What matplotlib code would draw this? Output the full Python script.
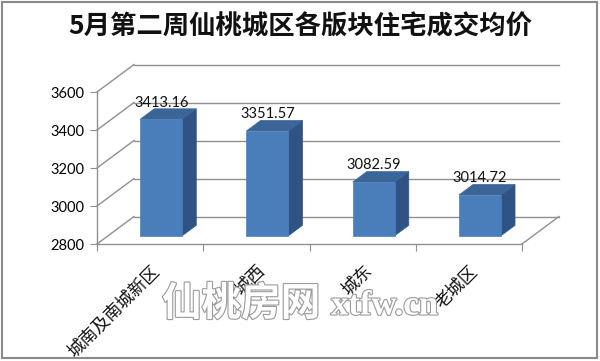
import matplotlib
matplotlib.use("Agg")
import matplotlib.pyplot as plt
from matplotlib.patches import Polygon, Rectangle
import matplotlib.patheffects as pe

title = "5月第二周仙桃城区各版块住宅成交均价"
categories = ["城南及南城新区", "城西", "城东", "老城区"]
values = [3413.16, 3351.57, 3082.59, 3014.72]
value_labels = ["3413.16", "3351.57", "3082.59", "3014.72"]
yticks = [2800, 3000, 3200, 3400, 3600]

W, H = 600, 361
fig = plt.figure(figsize=(W / 100, H / 100), dpi=100)
fig.patch.set_facecolor("white")

# front plane of the 3D box in pixels
left_px, right_px, bottom_px, top_px = 97, 522, 244, 92
ax = fig.add_axes([left_px / W, 1 - bottom_px / H,
                   (right_px - left_px) / W, (bottom_px - top_px) / H])
ymin, ymax = yticks[0], yticks[-1]
n = len(categories)
ax.set_xlim(0, n)
ax.set_ylim(ymin, ymax)
ax.patch.set_visible(False)

# depth offset (full depth) in data units
DX = 37 / (right_px - left_px) * n
DY = 27.5 / (bottom_px - top_px) * (ymax - ymin)

def proj(x, v, f):
    return (x + f * DX, v + f * DY)

grid_c = "#8f8f8f"
# back wall gridlines and left wall diagonals
for v in yticks:
    x0, y0 = proj(0, v, 1)
    x1, y1 = proj(n, v, 1)
    ax.plot([x0, x1], [y0, y1], color=grid_c, lw=1.0, clip_on=False, zorder=1)
    ax.plot([0, x0], [v, y0], color=grid_c, lw=1.0, clip_on=False, zorder=1)
# floor right edge
xr, yr = proj(n, ymin, 1)
ax.plot([n, xr], [ymin, yr], color=grid_c, lw=1.0, clip_on=False, zorder=1)

# bars
front_c = "#4A7EBB"
top_c = "#3B6597"
side_c = "#2F5384"
bw = 0.395
f0, f1 = 0.30, 0.68
for i, v in enumerate(values):
    c = i + 0.5
    xa, xb = c - bw / 2, c + bw / 2
    fa = [proj(xa, ymin, f0), proj(xb, ymin, f0), proj(xb, v, f0), proj(xa, v, f0)]
    top = [proj(xa, v, f0), proj(xb, v, f0), proj(xb, v, f1), proj(xa, v, f1)]
    side = [proj(xb, ymin, f0), proj(xb, v, f0), proj(xb, v, f1), proj(xb, ymin, f1)]
    for poly, col in ((side, side_c), (top, top_c), (fa, front_c)):
        ax.add_patch(Polygon(poly, closed=True, facecolor=col, edgecolor=col,
                             lw=0.5, clip_on=False, zorder=3))
    lx, _ = proj(c, v, f0)
    _, ly = proj(c, v, f1)
    ax.text(lx, ly - 4, value_labels[i], ha="center", va="bottom",
            fontsize=10.5, family="Lato", color="#111111", zorder=4, clip_on=False)

# axes styling
for s in ("top", "right"):
    ax.spines[s].set_visible(False)
for s in ("left", "bottom"):
    ax.spines[s].set_color(grid_c)
    ax.spines[s].set_linewidth(1.0)
ax.set_yticks(yticks)
ax.set_yticklabels([str(t) for t in yticks], family="Lato", fontsize=10.5)
ax.tick_params(axis="y", direction="out", length=5, color=grid_c, pad=4)
ax.set_xticks(range(n + 1))
ax.set_xticklabels([""] * (n + 1))
ax.tick_params(axis="x", which="major", direction="out", length=5, color=grid_c)
ax.set_xticks([i + 0.5 for i in range(n)], minor=True)
ax.set_xticklabels(categories, minor=True, rotation=45, ha="right",
                   rotation_mode="anchor", family=["Noto Sans CJK SC"],
                   fontsize=12.5, color="#111111")
ax.tick_params(axis="x", which="minor", length=0, pad=13)

# title
fig.text(0.5, 1 - 27 / H, title, ha="center", va="center", fontsize=19,
         fontweight="bold", family=["Noto Sans CJK SC", "DejaVu Sans"], color="#111111")

# watermark
stroke = [pe.withStroke(linewidth=1.6, foreground="#9a9a9a")]
fig.text(162 / W, 1 - 304 / H, "仙桃房网", ha="left", va="center", fontsize=28.5,
         fontweight="bold", family=["Noto Sans CJK SC"], color="white",
         path_effects=stroke, zorder=0)
fig.text(331 / W, 1 - 306 / H, "xtfw.cn", ha="left", va="center", fontsize=25,
         family="Liberation Serif", fontweight="bold", color="white",
         path_effects=stroke, zorder=0)

# outer frame
fig.add_artist(Rectangle((2 / W, 3 / H), 595 / W, 356 / H, transform=fig.transFigure,
                         fill=False, edgecolor="#8a8a8a", lw=1.5))

fig.savefig("out.png", dpi=100, facecolor="white")
